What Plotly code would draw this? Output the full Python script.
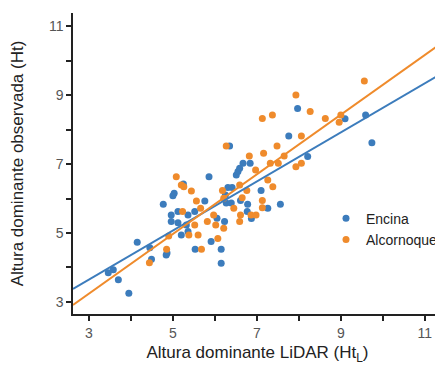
import plotly.graph_objects as go

# Encina (blue) points
enc_x = [3.46, 3.58, 3.70, 3.95, 4.15, 4.45, 4.49, 4.84, 4.86, 4.77, 5.00, 5.03, 5.25, 5.86,
         6.35, 6.67, 6.84, 6.51, 6.55, 6.59, 6.31, 6.41, 7.10, 6.27, 6.39, 6.61, 6.78, 6.77,
         6.87, 7.26, 7.56, 7.76, 7.97, 8.21, 9.10, 9.59, 9.74, 5.12, 4.96, 4.96, 5.12, 5.32,
         5.36, 5.52, 5.76, 5.20, 5.36, 5.53, 5.91, 6.05, 6.23, 6.15, 6.15, 6.25]
enc_y = [3.85, 3.93, 3.64, 3.25, 4.73, 4.57, 4.24, 4.36, 4.42, 5.83, 6.08, 6.15, 6.42, 6.63,
         7.52, 7.02, 7.02, 6.68, 6.78, 6.88, 6.32, 6.32, 6.23, 5.87, 5.87, 5.94, 5.83, 5.62,
         5.42, 5.72, 5.83, 7.81, 8.61, 7.22, 8.31, 8.42, 7.62, 5.62, 5.52, 5.33, 5.30, 5.23,
         5.52, 5.62, 5.93, 4.94, 5.04, 4.53, 4.75, 5.43, 5.33, 4.53, 4.12, 6.10]

# Alcornoque (orange) points
alc_x = [5.08, 5.20, 5.26, 5.44, 5.56, 5.66, 5.23, 5.97, 5.82, 6.02, 5.52, 6.21, 5.38, 5.60,
         4.90, 6.07, 5.68, 4.85, 4.44, 6.18, 6.21, 6.59, 6.65, 6.45, 6.61, 6.86, 6.98, 6.59,
         6.76, 7.13, 7.13, 7.26, 7.38, 6.97, 6.82, 7.16, 7.48, 7.65, 7.32, 7.51, 7.93, 8.06,
         8.06, 6.27, 7.13, 7.37, 7.93, 8.27, 8.63, 9.00, 8.96, 9.56]
alc_y = [6.63, 6.39, 6.34, 6.22, 5.93, 5.72, 5.62, 5.52, 5.33, 5.23, 5.23, 5.14, 4.94, 4.94,
         4.91, 4.84, 4.53, 4.53, 4.14, 6.23, 6.01, 6.39, 6.02, 5.72, 5.52, 5.52, 5.52, 5.33,
         6.23, 5.94, 5.73, 6.54, 6.34, 6.83, 7.23, 7.31, 7.52, 7.23, 7.02, 7.02, 6.92, 7.02,
         7.81, 7.52, 8.32, 8.42, 9.00, 8.52, 8.32, 8.42, 8.21, 9.41]

# Fitted lines (intercept, slope)
enc_fit = (1.51, 0.712)
alc_fit = (0.644, 0.865)

x_tick_vals = [3, 5, 7, 9, 11]
y_tick_vals = [3, 5, 7, 9, 11]

X_RANGE = [2.62, 11.41]
Y_RANGE = [2.65, 11.38]

BLUE = "#3c7cbc"
ORANGE = "#ef8b2c"

fig = go.Figure()
fig.add_trace(go.Scatter(x=enc_x, y=enc_y, mode="markers", name="Encina",
                         marker=dict(color=BLUE, size=7)))
fig.add_trace(go.Scatter(x=alc_x, y=alc_y, mode="markers", name="Alcornoque",
                         marker=dict(color=ORANGE, size=7)))

for (b0, b1), col in [(enc_fit, BLUE), (alc_fit, ORANGE)]:
    xs = X_RANGE
    ys = [b0 + b1 * v for v in xs]
    fig.add_trace(go.Scatter(x=xs, y=ys, mode="lines", showlegend=False,
                             line=dict(color=col, width=2), hoverinfo="skip"))

axis_common = dict(showgrid=False, zeroline=False, showline=True, linecolor="#222",
                   linewidth=1.5, ticks="outside", ticklen=5, tickwidth=1.5,
                   tickcolor="#222", tickfont=dict(size=14, color="#555"),
                   automargin=False,
                   minor=dict(dtick=1, tick0=3, ticks="outside", ticklen=5, tickwidth=1.5,
                              tickcolor="#222"))

fig.update_xaxes(range=X_RANGE, tickvals=x_tick_vals, title=dict(
    text="Altura dominante LiDAR (Ht<sub>L</sub>)", font=dict(size=17, color="#222"),
    standoff=12), **axis_common)
fig.update_yaxes(range=Y_RANGE, tickvals=y_tick_vals, title=dict(
    text="Altura dominante observada (Ht)", font=dict(size=17, color="#222"),
    standoff=21), **axis_common)

fig.update_layout(
    width=435, height=357,
    margin=dict(l=65, r=0, t=5, b=51),
    plot_bgcolor="white", paper_bgcolor="white",
    font=dict(family="Liberation Sans, Arial, sans-serif"),
    legend=dict(x=0.686, y=0.37, xanchor="left", yanchor="top",
                font=dict(size=14, color="#222"), bgcolor="rgba(0,0,0,0)",
                tracegroupgap=4),
)

fig.write_html("out.html")
